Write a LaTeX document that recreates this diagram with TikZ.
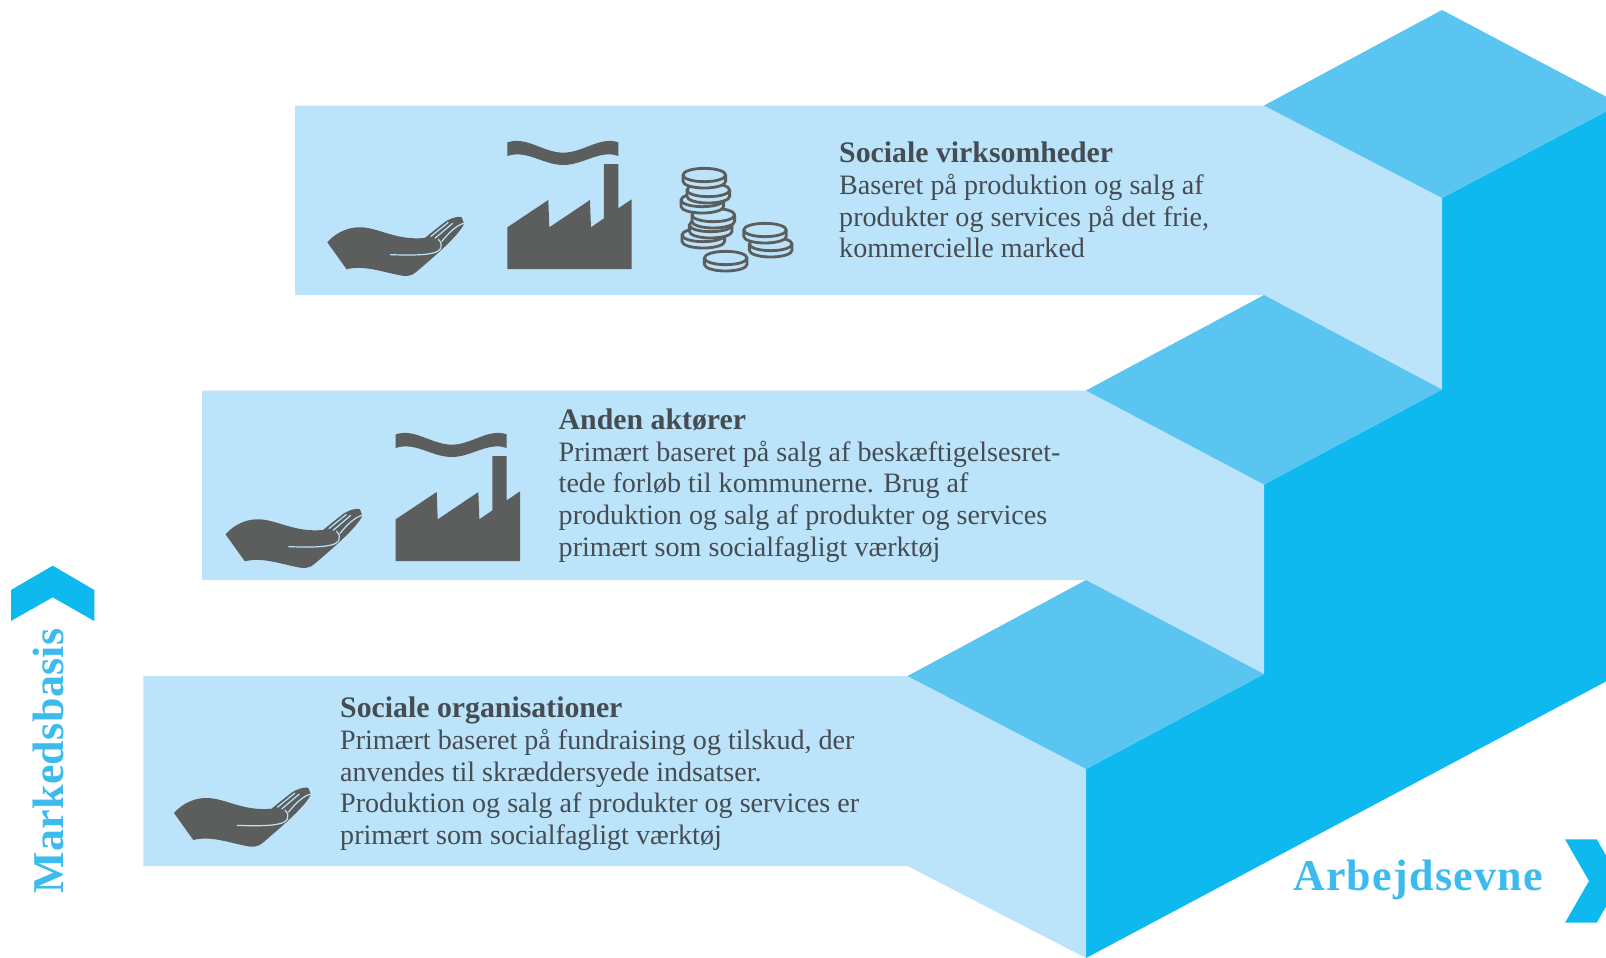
\documentclass[tikz,border=0pt]{standalone}
\usepackage{fontspec}
\setmainfont{Liberation Serif}
\definecolor{pale}{HTML}{BBE3FA}
\definecolor{mid}{HTML}{5BC5F2}
\definecolor{deep}{HTML}{0DB9EF}
\definecolor{ink}{HTML}{454C52}
\definecolor{icon}{HTML}{5C5E5E}
\definecolor{label}{HTML}{3DBBEE}
\newcommand{\headline}[1]{{\fontsize{29.8}{31.7}\selectfont\bfseries #1}}
\tikzset{
  x=1pt,y=-1pt,
  paleface/.style={fill=pale},
  midface/.style={fill=mid},
  deepface/.style={fill=deep},
  chevron/.style={fill=deep},
  body/.style={anchor=north west,inner sep=0pt,align=left,text=ink,font=\fontsize{28.1}{31.7}\selectfont},
  axislabel/.style={inner sep=0pt,text=label,font=\fontsize{44}{48}\selectfont\bfseries},
  hand/.pic={
    \begin{scope}[scale=1/3,shift={(-82,-397)}]
      \fill[icon] (82,397) .. controls (110,365) and (150,350) .. (185,352)
        .. controls (240,355) and (290,392) .. (375,384)
        .. controls (395,365) and (425,340) .. (445,330)
        .. controls (460,322) and (480,318) .. (485,322)
        .. controls (490,335) and (495,340) .. (488,350)
        .. controls (465,385) and (420,425) .. (350,485)
        .. controls (335,500) and (315,500) .. (295,495)
        .. controls (245,485) and (190,465) .. (140,478) -- cycle;
      \draw[pale,line width=1.2pt,line cap=round] (272,434) .. controls (320,436) and (370,436) .. (395,430)
        .. controls (425,425) and (432,405) .. (415,388);
      \draw[pale,line width=1.2pt] (378,378) -- (432,335) (392,380) -- (445,337) (405,385) -- (458,340)
        (425,395) .. controls (445,370) and (470,345) .. (492,340);
    \end{scope}
  },
  factory/.pic={
    \begin{scope}[scale=1/3,shift={(-622,-477)}]
      \fill[icon] (622,352) -- (745,270) -- (748,352) -- (870,270) -- (873,352) -- (912,325)
        -- (912,162) -- (955,162) -- (955,295) -- (995,268) -- (995,477) -- (622,477) -- cycle;
      \fill[icon] (622,97) .. controls (680,78) and (730,128) .. (790,128)
        .. controls (850,128) and (900,78) .. (955,97) -- (955,138)
        .. controls (900,118) and (850,165) .. (790,165)
        .. controls (730,165) and (680,118) .. (622,138) -- cycle;
    \end{scope}
  },
  coin/.pic={
    \begin{scope}[scale=1/3]
      \path[fill=pale,draw=icon,line width=2.8pt] (-64,0) -- (-64,19)
        .. controls (-64,30) and (-36,39) .. (0,39) .. controls (36,39) and (64,30) .. (64,19)
        -- (64,0) .. controls (64,-11) and (36,-20) .. (0,-20)
        .. controls (-36,-20) and (-64,-11) .. (-64,0) -- cycle;
      \draw[icon,line width=2.8pt] (-64,0) .. controls (-64,11) and (-36,20) .. (0,20)
        .. controls (36,20) and (64,11) .. (64,0);
    \end{scope}
  }
}
\begin{document}
\begin{tikzpicture}
\useasboundingbox (0,0) rectangle (1606,958);
\clip (0,0) rectangle (1606,958);
% stairs
\fill[deepface] (1086,769) -- (1264,674) -- (1264,484.5) -- (1442,389.5) -- (1442,198) -- (1620,104) -- (1620,674) -- (1086,958) -- cycle;
\fill[paleface] (295,105.5) -- (1264,105.5) -- (1442,198) -- (1442,389.5) -- (1264,295) -- (295,295) -- cycle;
\fill[paleface] (202,390.5) -- (1086,390.5) -- (1264,484.5) -- (1264,674) -- (1086,580) -- (202,580) -- cycle;
\fill[paleface] (143.4,676) -- (907.5,676) -- (1086,769) -- (1086,958) -- (907.5,866) -- (143.4,866) -- cycle;
\fill[midface] (1264,105.5) -- (1442,10) -- (1620,104) -- (1442,198) -- cycle;
\fill[midface] (1086,390.5) -- (1264,295) -- (1442,389.5) -- (1264,484.5) -- cycle;
\fill[midface] (907.5,676) -- (1086,580) -- (1264,674) -- (1086,769) -- cycle;
% chevrons
\fill[chevron] (11,590) -- (52.7,565.7) -- (94.3,590) -- (94.3,621) -- (52.7,597.3) -- (11,621) -- cycle;
\fill[chevron] (1565,839.3) -- (1596.7,839.3) -- (1620.7,881) -- (1596.7,922.7) -- (1565,922.7) -- (1589,881) -- cycle;
% icons
\pic at (327.3,242.3) {hand};
\pic at (225.5,534.3) {hand};
\pic at (174,813) {hand};
\pic at (507.3,269) {factory};
\pic at (395.7,561) {factory};
% left coin stack, bottom to top
\pic at (703.3,235) {coin};
\pic at (710.7,225) {coin};
\pic at (713.3,215) {coin};
\pic at (702.3,200) {coin};
\pic at (708.3,190) {coin};
\pic at (704.3,175) {coin};
% right coin stack and single coin
\pic at (770.7,244) {coin};
\pic at (765,230) {coin};
\pic at (725.7,258) {coin};
% texts
\node[body] (t1) at (839,142) {\headline{Sociale virksomheder}\\Baseret på produktion og salg af\\produkter og services på det frie,\\kommercielle marked};
\node[body] (t2) at (558.5,408.5) {\headline{Anden aktører}\\Primært baseret på salg af beskæftigelsesret-\\tede forløb til kommunerne. Brug af\\produktion og salg af produkter og services\\primært som socialfagligt værktøj};
\node[body] (t3) at (340,697) {\headline{Sociale organisationer}\\Primært baseret på fundraising og tilskud, der\\anvendes til skræddersyede indsatser.\\Produktion og salg af produkter og services er\\primært som socialfagligt værktøj};
\node[axislabel,anchor=base west] (arb) at (1293,890) {\addfontfeature{LetterSpace=2.8}Arbejdsevne};
\node[axislabel,anchor=base west,rotate=90] (mark) at (63,894) {\addfontfeature{LetterSpace=0.8}Markedsbasis};
\end{tikzpicture}
\end{document}
